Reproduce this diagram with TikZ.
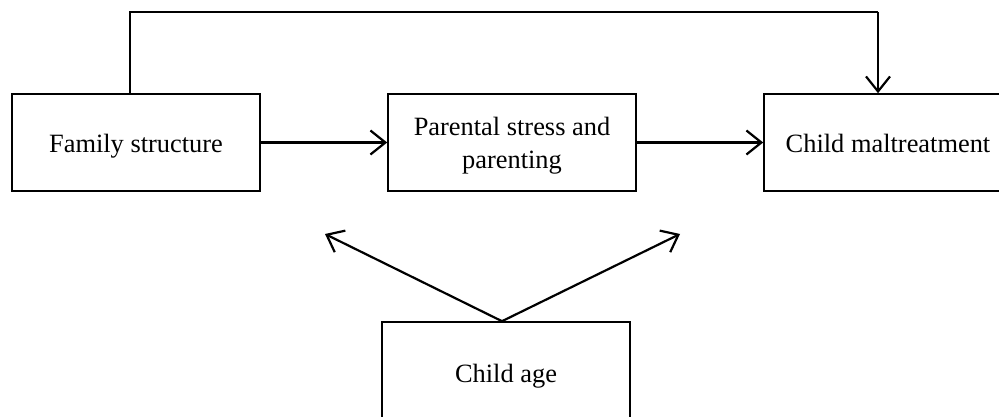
\documentclass[tikz,border=0pt]{standalone}
\usepackage{fontspec}
\setmainfont{Liberation Serif}
\usetikzlibrary{arrows.meta}
\newcommand{\boxtext}[2]{\raisebox{#1}[0pt][0pt]{\begin{tabular}[t]{@{}c@{}}#2\end{tabular}}}
\begin{document}
\begin{tikzpicture}[x=1pt,y=-1pt,
  box/.style={draw, line width=1.6pt, rectangle, inner sep=0pt, text height=0pt, text depth=0pt, font=\fontsize{26.4}{33.5}\selectfont},
  conn/.style={line width=2.2pt},
  arr/.style={conn, -{Straight Barb[length=15pt,width=24pt,line width=2.2pt]}}]
\useasboundingbox (0,0) rectangle (999,417);
\node[box, minimum width=248pt, minimum height=97pt] (fam) at (136,142.5) {\boxtext{-10pt}{Family structure}};
\node[box, minimum width=248pt, minimum height=97pt] (par) at (512,142.5) {\boxtext{7pt}{Parental stress and\\parenting}};
\node[box, minimum width=248pt, minimum height=97pt] (mal) at (888,142.5) {\boxtext{-10pt}{Child maltreatment}};
\node[box, minimum width=248pt, minimum height=102pt] (age) at (506,373) {\boxtext{-9pt}{Child age}};
\coordinate (tl) at (130,12);
\coordinate (tr) at (878,12);
\coordinate (al) at (325,234);
\coordinate (ar) at (680,234);
\draw[conn] (fam.north -| tl) -- (tl) -- (tr);
\draw[arr] (tr) -- (mal.north -| tr);
\draw[arr] (fam.east) -- (par.west);
\draw[arr] (par.east) -- (mal.west);
\draw[arr] ([xshift=-4pt]age.north) -- (al);
\draw[arr] ([xshift=-4pt]age.north) -- (ar);
\end{tikzpicture}
\end{document}
